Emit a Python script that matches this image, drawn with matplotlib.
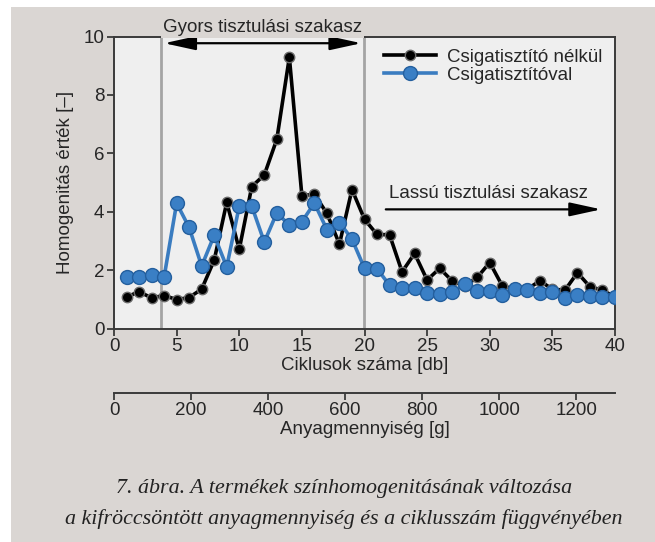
import matplotlib
matplotlib.use("Agg")
import matplotlib.pyplot as plt
from matplotlib.patches import Rectangle

# ---- data ----
cycles = list(range(1, 41))
without_cleaner = [1.08, 1.26, 1.05, 1.13, 0.99, 1.06, 1.35, 2.34, 4.32, 2.71,
                   4.86, 5.26, 6.48, 9.29, 4.55, 4.60, 3.94, 2.89, 4.76, 3.74,
                   3.22, 3.21, 1.94, 2.57, 1.66, 2.06, 1.63, 1.45, 1.75, 2.26,
                   1.46, 1.35, 1.35, 1.63, 1.35, 1.31, 1.91, 1.43, 1.31, 1.08]
with_cleaner = [1.77, 1.78, 1.82, 1.76, 4.29, 3.46, 2.14, 3.19, 2.11, 4.19,
                4.19, 2.96, 3.96, 3.54, 3.66, 4.29, 3.39, 3.63, 3.06, 2.06,
                2.05, 1.48, 1.37, 1.37, 1.22, 1.18, 1.24, 1.52, 1.29, 1.29,
                1.14, 1.34, 1.31, 1.22, 1.26, 1.05, 1.14, 1.10, 1.08, 1.08]
series_labels = ["Csigatisztító nélkül", "Csigatisztítóval"]
x_ticks = [0, 5, 10, 15, 20, 25, 30, 35, 40]
y_ticks = [0, 2, 4, 6, 8, 10]
g_ticks = [0, 200, 400, 600, 800, 1000, 1200]
grams_per_cycle = 32.5
fast_phase = (3.75, 19.95)
fast_label = "Gyors tisztulási szakasz"
slow_label = "Lassú tisztulási szakasz"
caption = ["7. ábra. A termékek színhomogenitásának változása",
           "a kifröccsöntött anyagmennyiség és a ciklusszám függvényében"]

plt.rcParams['font.family'] = ['Liberation Sans', 'DejaVu Sans']
FS = 13.5

W, H = 655, 542
fig = plt.figure(figsize=(W / 100, H / 100), dpi=100)
fig.patch.set_facecolor('white')
panel_col = '#dad6d3'
fig.patches.append(Rectangle((11 / W, 0), 1, 1 - 7 / H, transform=fig.transFigure,
                             facecolor=panel_col, edgecolor='none', zorder=-10))

left, right = 114 / W, 615 / W
bottom, top = 1 - 328.5 / H, 1 - 36.5 / H
ax = fig.add_axes([left, bottom, right - left, top - bottom])
ax.set_facecolor('#efefef')

txt_col = '#262626'
spine_col = '#3a3a3a'

ax.plot(cycles, without_cleaner, color='black', lw=2.6, marker='o', ms=7.5,
        mfc='black', mec='#6a6a6a', mew=1.0, zorder=3, label=series_labels[0])
ax.plot(cycles, with_cleaner, color='#3a7cc0', lw=2.6, marker='o', ms=10,
        mfc='#3a7fc5', mec='#245f9e', mew=1.0, zorder=4, label=series_labels[1])

for xv in fast_phase:
    ax.axvline(xv, color='#a4a4a4', lw=2, zorder=1)

ax.set_xlim(0, 40)
ax.set_ylim(0, 10)
ax.set_xticks(x_ticks)
ax.set_yticks(y_ticks)
ax.tick_params(direction='out', length=5, width=1.3, colors=spine_col,
               labelsize=FS, labelcolor=txt_col, pad=2)
for s in ax.spines.values():
    s.set_color(spine_col)
    s.set_linewidth(1.4)

ax.set_xlabel("Ciklusok száma [db]", fontsize=FS, color=txt_col, labelpad=1)
ax.set_ylabel("Homogenitás érték [–]", fontsize=FS, color=txt_col, labelpad=7)

# fast phase annotation
ax.annotate('', xy=(4.0, 9.77), xytext=(19.75, 9.77),
            arrowprops=dict(arrowstyle='<|-|>,head_length=1.6,head_width=0.35',
                            color='black', lw=1.6, shrinkA=0, shrinkB=0,
                            mutation_scale=12), zorder=5)
ax.text(11.85, 10.32, fast_label, ha='center', va='center', fontsize=FS,
        color=txt_col, clip_on=False, zorder=6,
        bbox=dict(facecolor=panel_col, edgecolor='none', pad=1.5))

# slow phase annotation
ax.annotate('', xy=(38.9, 4.08), xytext=(21.7, 4.08),
            arrowprops=dict(arrowstyle='-|>,head_length=1.6,head_width=0.35',
                            color='black', lw=1.6, shrinkA=0, shrinkB=0,
                            mutation_scale=12), zorder=5)
ax.text(29.9, 4.64, slow_label, ha='center', va='center', fontsize=FS,
        color=txt_col, zorder=6)

leg = ax.legend(loc='upper right', bbox_to_anchor=(1.0, 1.0), frameon=False,
                fontsize=FS, handlelength=2.8, handletextpad=0.6,
                labelspacing=0.05, borderaxespad=0.25)
for t in leg.get_texts():
    t.set_color(txt_col)

sec = ax.secondary_xaxis(-0.22, functions=(lambda c: c * grams_per_cycle,
                                           lambda g: g / grams_per_cycle))
sec.set_xticks(g_ticks)
sec.tick_params(direction='out', length=5, width=1.3, colors=spine_col,
                labelsize=FS, labelcolor=txt_col, pad=2)
sec.spines['bottom'].set_color(spine_col)
sec.spines['bottom'].set_linewidth(1.4)
sec.set_xlabel("Anyagmennyiség [g]", fontsize=FS, color=txt_col, labelpad=1)

fig.text(0.525, 1 - 488 / H, caption[0], ha='center', va='center', fontsize=15.8,
         style='italic', family=['Liberation Serif', 'DejaVu Serif'], color='#222222')
fig.text(0.525, 1 - 519 / H, caption[1], ha='center', va='center', fontsize=15.8,
         style='italic', family=['Liberation Serif', 'DejaVu Serif'], color='#222222')

fig.savefig('out.png', dpi=100, facecolor=fig.get_facecolor())
